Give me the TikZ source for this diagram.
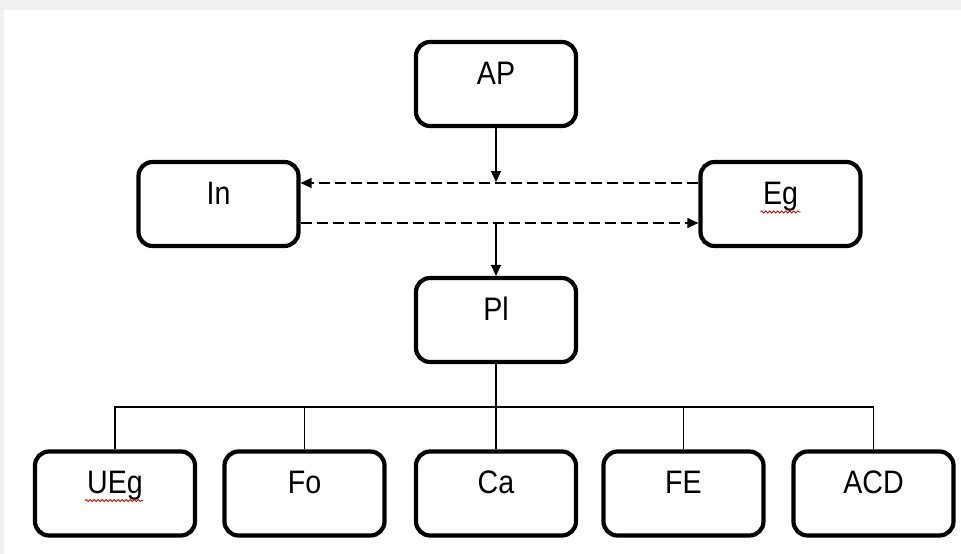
\documentclass[tikz,border=0pt]{standalone}
\usepackage{fontspec}
\setmainfont{Liberation Sans}[FakeStretch=0.88]
\usetikzlibrary{arrows.meta,calc,decorations.pathmorphing}
\begin{document}
\begin{tikzpicture}[x=1pt,y=-1pt,
  stepbox/.style={draw=black,line width=4.2pt,rounded corners=14pt,
    minimum width=160pt,minimum height=84pt,inner sep=0pt,
    text height=20pt,text depth=20pt,
    font=\fontsize{32.5}{38}\selectfont},
  conn/.style={draw=black,line width=1.3pt},
  dashconn/.style={draw=black,line width=1.3pt,dash pattern=on 11pt off 5pt},
  tip/.style={-{Triangle[length=11pt,width=10pt]}},
  squig/.style={draw=red!85!black,line width=0.8pt,
    decorate,decoration={snake,amplitude=1pt,segment length=4pt}}]
\useasboundingbox (0,0) rectangle (961,554);
\fill[gray!12] (0,0) rectangle (961,554);
\fill[white] (4,10) rectangle (961,554);

\node[stepbox] (AP) at (496,84) {AP};
\node[stepbox] (In) at (218.5,204) {In};
\node[stepbox] (Eg) at (780.5,204) {Eg};
\node[stepbox] (PI) at (496,320) {Pl};
\node[stepbox] (UEg) at (115,493.5) {UEg};
\node[stepbox] (Fo) at (304.5,493.5) {Fo};
\node[stepbox] (Ca) at (496,493.5) {Ca};
\node[stepbox] (FE) at (683.5,493.5) {FE};
\node[stepbox] (ACD) at (873.5,493.5) {ACD};

% dashed arrows
\coordinate (eTop) at ($(Eg.west)+(0,-21)$);
\coordinate (iBot) at ($(In.east)+(0,19)$);
\draw[dashconn,tip] (eTop) -- (eTop -| In.east);
\draw[dashconn,tip] (iBot) -- (iBot -| Eg.west);

% vertical arrows
\coordinate (apEnd) at ($(AP.south |- eTop)+(0,-1)$);
\coordinate (plStart) at (PI.north |- iBot);
\draw[conn,tip] (AP.south) -- (apEnd);
\draw[conn,tip] (plStart) -- (PI.north);

% bus
\coordinate (bus) at ($(PI.south)+(0,43)$);
\draw[conn] (PI.south) -- (Ca.north);
\draw[conn] (UEg.north) |- (bus) -| (ACD.north);
\draw[conn] (Fo.north) -- (Fo.north |- bus);
\draw[conn] (FE.north) -- (FE.north |- bus);

% spell-check squiggles
\coordinate (sqE1) at ($(Eg.center)+(-20,8)$);
\coordinate (sqE2) at ($(Eg.center)+(20,8)$);
\draw[squig] (sqE1) -- (sqE2);
\coordinate (sqU1) at ($(UEg.center)+(-30,7)$);
\coordinate (sqU2) at ($(UEg.center)+(28,7)$);
\draw[squig] (sqU1) -- (sqU2);
\end{tikzpicture}
\end{document}
